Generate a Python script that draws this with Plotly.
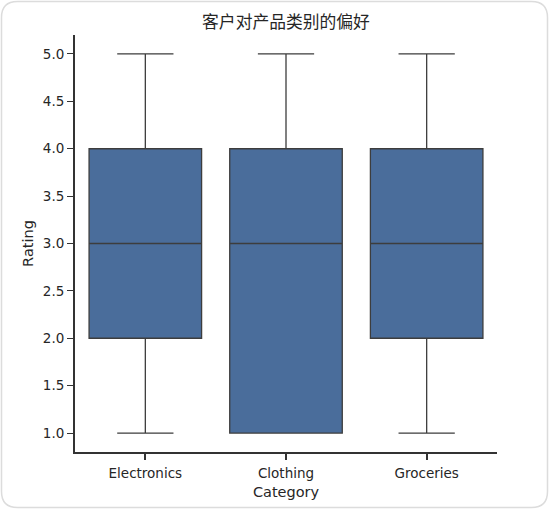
import plotly.graph_objects as go

categories = ["Electronics", "Clothing", "Groceries"]
lower = [1.0, 1.0, 1.0]
q1 = [2.0, 1.0, 2.0]
median = [3.0, 3.0, 3.0]
q3 = [4.0, 4.0, 4.0]
upper = [5.0, 5.0, 5.0]
y_ticks = [1.0, 1.5, 2.0, 2.5, 3.0, 3.5, 4.0, 4.5, 5.0]

W, H = 549, 509
L, R, T, B = 75, 52, 35, 57
pw, ph = W - L - R, H - T - B

fig = go.Figure()
fig.add_trace(go.Box(
    x=categories, q1=q1, median=median, q3=q3,
    lowerfence=lower, upperfence=upper,
    fillcolor="#4a6d9b", line=dict(color="#3d3d3d", width=1.3),
    width=0.8, whiskerwidth=0.5, boxpoints=False, showlegend=False,
    hoverinfo="skip",
))

# rounded card border, drawn in paper coords
def px2x(p):
    return (p - L) / pw

def py2y(p):
    return (H - B - p) / ph

x0, x1, y0, y1, r = 1.5, 547.5, 1.5, 507.5, 16
path = (f"M {px2x(x0 + r)},{py2y(y0)} L {px2x(x1 - r)},{py2y(y0)} "
        f"Q {px2x(x1)},{py2y(y0)} {px2x(x1)},{py2y(y0 + r)} "
        f"L {px2x(x1)},{py2y(y1 - r)} "
        f"Q {px2x(x1)},{py2y(y1)} {px2x(x1 - r)},{py2y(y1)} "
        f"L {px2x(x0 + r)},{py2y(y1)} "
        f"Q {px2x(x0)},{py2y(y1)} {px2x(x0)},{py2y(y1 - r)} "
        f"L {px2x(x0)},{py2y(y0 + r)} "
        f"Q {px2x(x0)},{py2y(y0)} {px2x(x0 + r)},{py2y(y0)} Z")
fig.add_shape(type="path", path=path, xref="paper", yref="paper",
              line=dict(color="#dcdcdc", width=1.5), layer="below")

fig.update_layout(
    width=W, height=H,
    margin=dict(l=L, r=R, t=T, b=B),
    paper_bgcolor="white", plot_bgcolor="white",
    font=dict(family="DejaVu Sans, Noto Sans CJK SC", size=13.5, color="#262626"),
    title=dict(text="客户对产品类别的偏好", x=0.5, xref="paper", y=1 - 22.5 / H,
               yref="container", xanchor="center", yanchor="middle",
               font=dict(family="Noto Sans CJK SC", size=16.8, color="#262626")),
    xaxis=dict(title=dict(text="Category", standoff=7, font=dict(size=14.5)),
               range=[-0.5, 2.5], tickfont=dict(size=13.5), ticklabelstandoff=2,
               showline=True, linecolor="#333333", linewidth=2,
               ticks="outside", ticklen=6, tickwidth=2, tickcolor="#333333",
               showgrid=False, zeroline=False),
    yaxis=dict(title=dict(text="Rating", standoff=6, font=dict(size=14.5)),
               range=[0.8, 5.2], tickfont=dict(size=13.5),
               tickvals=y_ticks, ticktext=[f"{v:.1f}" for v in y_ticks],
               showline=True, linecolor="#333333", linewidth=2,
               ticks="outside", ticklen=6, tickwidth=1.3, tickcolor="#333333",
               showgrid=False, zeroline=False),
)

fig.write_html("out.html", config={"displayModeBar": False},
               post_script="document.body.style.margin='0';")
